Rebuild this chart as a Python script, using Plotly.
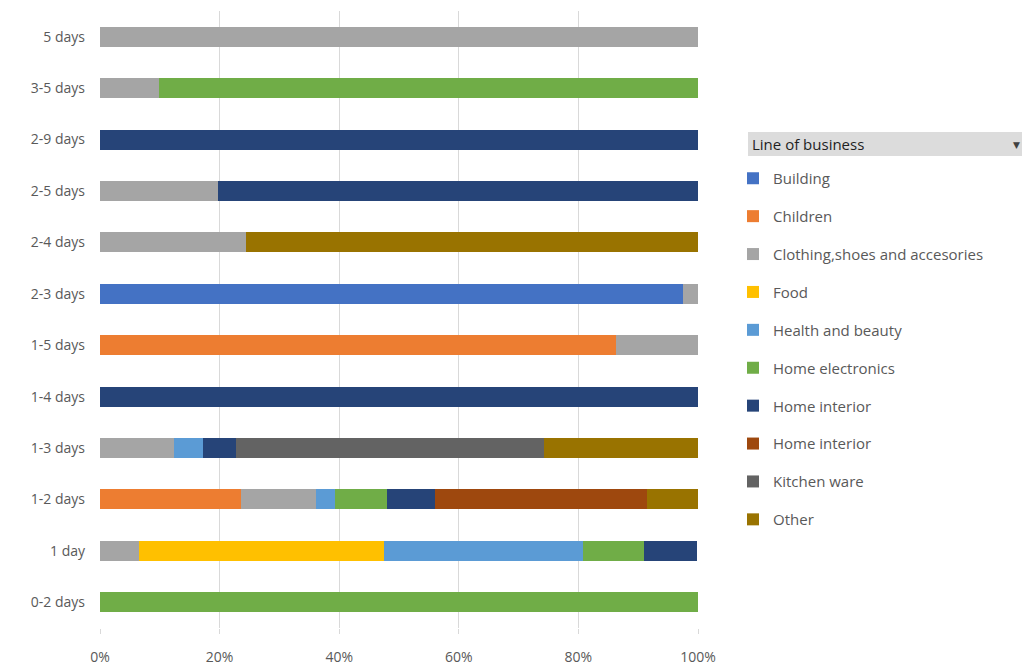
import plotly.graph_objects as go

categories = ["0-2 days", "1 day", "1-2 days", "1-3 days", "1-4 days", "1-5 days",
              "2-3 days", "2-4 days", "2-5 days", "2-9 days", "3-5 days", "5 days"]

series_names = ["Building", "Children", "Clothing,shoes and accesories", "Food",
                "Health and beauty", "Home electronics", "Home interior",
                "Home interior", "Kitchen ware", "Other"]

building         = [None, None, None, None, None, None, 97.5, None, None, None, None, None]
children         = [None, None, 23.6, None, None, 86.3, None, None, None, None, None, None]
clothing         = [None, 6.6, 12.5, 12.4, None, 13.7, 2.5, 24.4, 19.7, None, 9.8, 100]
food             = [None, 40.9, None, None, None, None, None, None, None, None, None, None]
health           = [None, 33.3, 3.2, 4.8, None, None, None, None, None, None, None, None]
home_electronics = [100, 10.2, 8.7, None, None, None, None, None, None, None, 90.2, None]
home_interior    = [None, 8.9, 8.0, 5.6, 100, None, None, None, 80.3, 100, None, None]
home_interior_2  = [None, None, 35.4, None, None, None, None, None, None, None, None, None]
kitchen_ware     = [None, None, None, 51.5, None, None, None, None, None, None, None, None]
other            = [None, None, 8.6, 25.7, None, None, None, 75.6, None, None, None, None]

colors = ["#4472C4", "#ED7D31", "#A5A5A5", "#FFC000", "#5B9BD5",
          "#70AD47", "#264478", "#9E480E", "#636363", "#997300"]

tick_vals = [0, 20, 40, 60, 80, 100]
tick_text = ["0%", "20%", "40%", "60%", "80%", "100%"]

all_values = [building, children, clothing, food, health, home_electronics,
              home_interior, home_interior_2, kitchen_ware, other]

FONT = "Open Sans, DejaVu Sans, sans-serif"

fig = go.Figure()
for i, (name, vals, col) in enumerate(zip(series_names, all_values, colors)):
    fig.add_trace(go.Bar(
        y=categories, x=vals, name=name, orientation="h",
        marker=dict(color=col, line=dict(width=0)),
        legendgroup=f"g{i}", legendrank=i,
    ))

fig.update_layout(
    barmode="stack",
    bargap=0.61,
    width=1025, height=668,
    margin=dict(l=100, r=327, t=11, b=40),
    plot_bgcolor="white", paper_bgcolor="white",
    font=dict(family=FONT, size=14, color="#595959"),
    xaxis=dict(range=[0, 100], tickvals=tick_vals, ticktext=tick_text,
               showgrid=True, gridcolor="#D9D9D9", gridwidth=1,
               zeroline=False, ticks="outside", ticklen=5, tickcolor="#D9D9D9",
               ticklabelstandoff=11, automargin=False,
               tickfont=dict(size=14, color="#595959")),
    yaxis=dict(categoryorder="array", categoryarray=categories,
               showgrid=False, zeroline=False, ticks="", ticklabelstandoff=14,
               automargin=False,
               tickfont=dict(size=14, color="#595959")),
    legend=dict(
        xref="container", yref="container",
        x=733 / 1025, y=1 - 162 / 668, xanchor="left", yanchor="top",
        traceorder="grouped", tracegroupgap=15.4, maxheight=600,
        font=dict(family=FONT, size=15, color="#595959"),
        itemwidth=30, bgcolor="rgba(0,0,0,0)",
    ),
    showlegend=True,
)

# Pivot-style legend header
fig.add_shape(type="rect", xref="paper", yref="paper",
              x0=(748 - 100) / 598, x1=(1022 - 100) / 598,
              y0=(628 - 156) / 617, y1=(628 - 132) / 617,
              fillcolor="#DCDCDC", line=dict(width=0), layer="below")
fig.add_annotation(xref="paper", yref="paper",
                   x=(750 - 100) / 598, y=(628 - 144) / 617,
                   xanchor="left", yanchor="middle", showarrow=False,
                   text="Line of business",
                   font=dict(family=FONT, size=15, color="#1F1F1F"))
fig.add_annotation(xref="paper", yref="paper",
                   x=(1016 - 100) / 598, y=(628 - 144) / 617,
                   xanchor="center", yanchor="middle", showarrow=False,
                   text="▼", font=dict(family=FONT, size=9, color="#404040"))

fig.write_html("out.html")
